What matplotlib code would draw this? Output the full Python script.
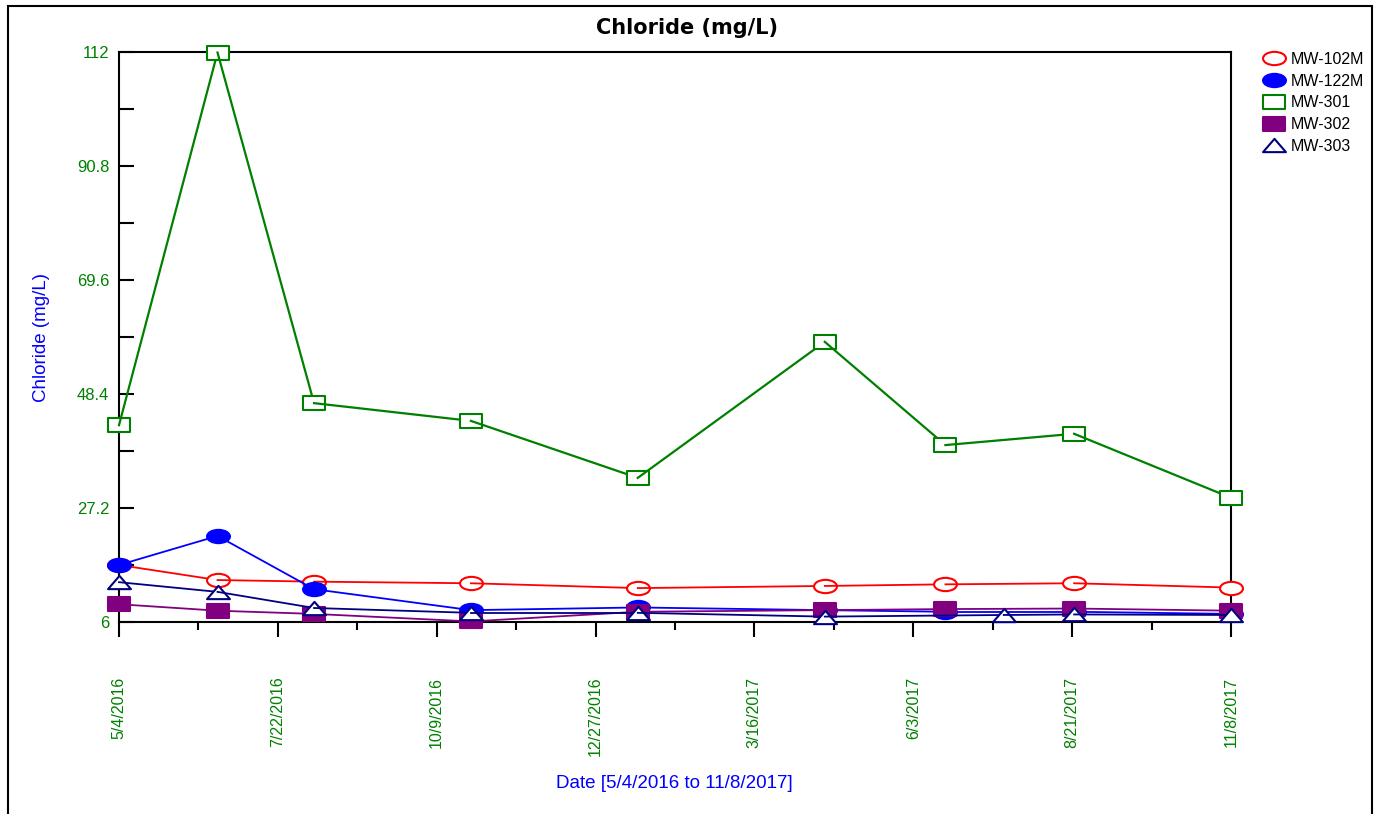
import matplotlib
matplotlib.use("Agg")
import matplotlib.pyplot as plt
import matplotlib.dates as mdates
from matplotlib.path import Path
from matplotlib.lines import Line2D
from matplotlib.patches import Rectangle
from matplotlib.ticker import FixedLocator, AutoMinorLocator
import numpy as np
import pandas as pd

plt.rcParams["font.family"] = ["Liberation Sans", "DejaVu Sans"]

# sample dates
dates_main = ["2016-05-04", "2016-06-22", "2016-08-09", "2016-10-26", "2017-01-17",
              "2017-04-20", "2017-06-19", "2017-08-22", "2017-11-08"]
dates_303 = ["2016-05-04", "2016-06-22", "2016-08-09", "2016-10-26", "2017-01-17",
             "2017-04-20", "2017-07-18", "2017-08-22", "2017-11-08"]

mw_102m = [16.6, 13.8, 13.5, 13.2, 12.3, 12.7, 13.0, 13.2, 12.4]
mw_122m = [16.6, 22.0, 12.1, 8.2, 8.7, 8.2, 7.9, 7.9, 7.5]
mw_301 = [42.6, 111.9, 46.7, 43.4, 32.8, 58.1, 38.9, 41.0, 29.1]
mw_302 = [9.3, 8.1, 7.5, 6.1, 7.9, 8.2, 8.4, 8.5, 8.1]
mw_303 = [13.4, 11.6, 8.6, 7.7, 7.7, 7.0, 7.3, 7.4, 7.3]

y_ticks = [6, 27.2, 48.4, 69.6, 90.8, 112]
x_tick_labels = ["5/4/2016", "7/22/2016", "10/9/2016", "12/27/2016",
                 "3/16/2017", "6/3/2017", "8/21/2017", "11/8/2017"]
x_start, x_end = "2016-05-04", "2017-11-08"

# stretched markers (wider than tall)
ellipse = Path(Path.unit_circle().vertices * [1.0, 0.58], Path.unit_circle().codes)
rect = Path([(-1, -0.58), (1, -0.58), (1, 0.58), (-1, 0.58), (-1, -0.58)], closed=True)
tri = Path([(-1, -0.58), (1, -0.58), (0, 0.58), (-1, -0.58)], closed=True)

series = [
    ("MW-102M", dates_main, mw_102m, "#ff0000", ellipse, False, 1.3),
    ("MW-122M", dates_main, mw_122m, "#0000ff", ellipse, True, 1.3),
    ("MW-301", dates_main, mw_301, "#008000", rect, False, 1.6),
    ("MW-302", dates_main, mw_302, "#800080", rect, True, 1.3),
    ("MW-303", dates_303, mw_303, "#000080", tri, False, 1.3),
]
MS = 16.5

fig = plt.figure(figsize=(13.74, 8.14), dpi=100)
ax = fig.add_axes([0.0866, 0.2359, 0.8093, 0.7002])

z = 3
handles = []
for name, d, vals, color, mk, filled, lw in series:
    x = mdates.date2num(pd.to_datetime(d))
    face = color if filled else "white"
    for i in range(len(x)):
        ax.plot([x[i]], [vals[i]], linestyle="none", marker=mk, markersize=MS,
                markerfacecolor=face, markeredgecolor=color, markeredgewidth=1.5,
                zorder=z, clip_on=False)
        z += 1
        if i + 1 < len(x):
            ax.plot(x[i:i + 2], vals[i:i + 2], color=color, linewidth=lw,
                    zorder=z, clip_on=False)
            z += 1
    handles.append(Line2D([], [], linestyle="none", marker=mk, markersize=MS,
                          markerfacecolor=face, markeredgecolor=color,
                          markeredgewidth=1.5, label=name))

x0 = mdates.date2num(pd.Timestamp(x_start))
x1 = mdates.date2num(pd.Timestamp(x_end))
ax.set_xlim(x0, x1)
ax.set_ylim(6, 112)

ax.xaxis.set_major_locator(FixedLocator(np.linspace(x0, x1, len(x_tick_labels))))
ax.set_xticklabels(x_tick_labels, rotation=90, color="#008000", fontsize=11.5)
ax.xaxis.set_minor_locator(AutoMinorLocator(2))
ax.tick_params(axis="x", which="major", direction="out", length=10.8, width=1.5, pad=28.5)
ax.tick_params(axis="x", which="minor", direction="out", length=5.8, width=1.5)

ax.yaxis.set_major_locator(FixedLocator(y_ticks))
ax.set_yticklabels([f"{t:g}" for t in y_ticks], color="#008000", fontsize=12)
ax.yaxis.set_minor_locator(AutoMinorLocator(2))
ax.tick_params(axis="y", which="both", direction="in", length=10.8, width=1.5, pad=7)

for sp in ax.spines.values():
    sp.set_linewidth(1.5)

fig.text(687 / 1374, 1 - 28 / 814, "Chloride (mg/L)", ha="center", va="center",
         fontsize=15, fontweight="bold", family="DejaVu Sans")
fig.text(674.5 / 1374, 1 - 783 / 814, "Date [5/4/2016 to 11/8/2017]", ha="center",
         va="center", fontsize=13.5, color="#0000ff")
fig.text(41 / 1374, 1 - 337 / 814, "Chloride (mg/L)", ha="center", va="center",
         rotation=90, fontsize=13.5, color="#0000ff")

fig.legend(handles=handles, loc="upper left", bbox_to_anchor=(1262 / 1374, 1 - 52 / 814),
           frameon=False, fontsize=11.5, handlelength=1.5, handletextpad=0.3,
           labelspacing=0.42, borderpad=0, borderaxespad=0)

fig.add_artist(Rectangle((8 / 1374, -0.02), 1364 / 1374, 1.02 - 6 / 814,
                         transform=fig.transFigure, fill=False, edgecolor="black",
                         linewidth=1.5, clip_on=False))

fig.savefig("out.png", dpi=100)
